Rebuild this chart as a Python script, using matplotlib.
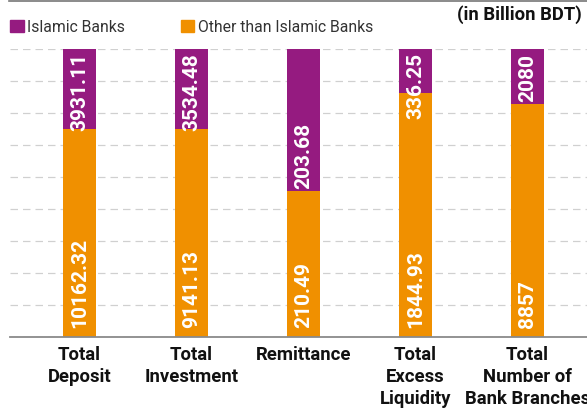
import matplotlib
matplotlib.use('Agg')
import matplotlib.pyplot as plt
from matplotlib.patches import Patch
from matplotlib.lines import Line2D
import numpy as np

plt.rcParams['font.family'] = ['Roboto', 'DejaVu Sans']

categories = ['Total\nDeposit', 'Total\nInvestment', 'Remittance',
              'Total\nExcess\nLiquidity', 'Total\nNumber of\nBank Branches']
islamic = [3931.11, 3534.48, 203.68, 336.25, 2080]
other = [10162.32, 9141.13, 210.49, 1844.93, 8857]
islamic_labels = ['3931.11', '3534.48', '203.68', '336.25', '2080']
other_labels = ['10162.32', '9141.13', '210.49', '1844.93', '8857']

purple = '#951B80'
orange = '#F09000'

W, H = 587, 410
fig = plt.figure(figsize=(W / 100, H / 100), dpi=100)
ax = fig.add_axes([10 / W, (H - 338) / H, 1 - 10 / W, 288 / H])

isl = np.array(islamic)
oth = np.array(other)
total = isl + oth
oth_pct = oth / total * 100
isl_pct = isl / total * 100
x = np.arange(len(categories))

ax.bar(x, oth_pct, width=0.295, color=orange, zorder=2)
ax.bar(x, isl_pct, bottom=oth_pct, width=0.295, color=purple, zorder=2)

ax.set_xlim(-0.62, 4.53)
ax.set_ylim(0, 100)
ax.set_yticks(np.linspace(0, 100, 10))
ax.yaxis.grid(True, color='#d0d0d0', linestyle=(0, (6, 4)), linewidth=0.9, zorder=0)
ax.tick_params(axis='y', left=False, labelleft=False)
ax.tick_params(axis='x', bottom=False, pad=2)
ax.set_xticks(x)
ax.set_xticklabels(categories, fontsize=13.3, fontweight='bold', color='#111111',
                   linespacing=1.3, va='top')
for s in ['top', 'left', 'right']:
    ax.spines[s].set_visible(False)
ax.spines['bottom'].set_color('#8a8a8a')
ax.spines['bottom'].set_linewidth(1.3)
ax.spines['bottom'].set_zorder(3)

# value labels
fig.canvas.draw()
renderer = fig.canvas.get_renderer()
for i in range(len(x)):
    ax.text(x[i], 3.5, other_labels[i], rotation=90, ha='center', va='bottom',
            color='white', fontsize=15, fontweight='bold', zorder=4)
    t = ax.text(x[i], oth_pct[i] + 0.8, islamic_labels[i], rotation=90, ha='center',
                va='bottom', color='white', fontsize=15, fontweight='bold', zorder=4)
    bb = t.get_window_extent(renderer).transformed(ax.transData.inverted())
    if bb.y1 > 99:
        t.set_position((x[i], 99))
        t.set_va('top')

handles = [Patch(color=purple, label='Islamic Banks'),
           Patch(color=orange, label='Other than Islamic Banks')]
fig.legend(handles=handles, loc='upper left', bbox_to_anchor=(4 / W, 1 - 14 / H),
           ncol=2, frameon=False, fontsize=11.3, handlelength=0.85, handleheight=0.85,
           handletextpad=0.2, columnspacing=3.6, labelcolor='#333333', borderaxespad=0)

fig.text(582 / W, 1 - 15 / H, '(in Billion BDT)', ha='right', va='center',
         fontsize=13.3, fontweight='bold', color='#111111')

fig.add_artist(Line2D([9 / W, 1], [1 - 2 / H, 1 - 2 / H], color='#777777', linewidth=1.2))

fig.savefig('out.png', dpi=100)
